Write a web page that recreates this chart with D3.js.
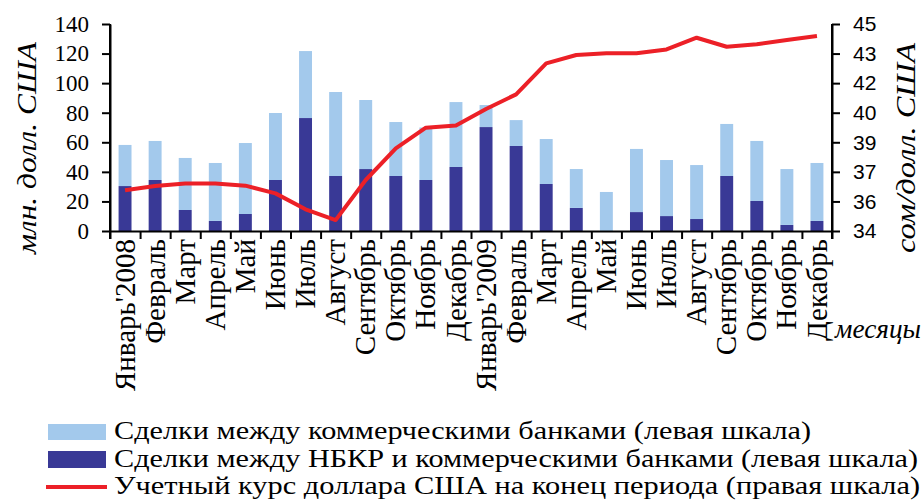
<!DOCTYPE html>
<html>
<head>
<meta charset="utf-8">
<script src="https://cdn.jsdelivr.net/npm/d3@7"></script>
<style>
  body { margin: 0; background: #fff; }
  svg { display: block; }
  .axis path, .axis line { stroke: #000; stroke-width: 2; }
</style>
</head>
<body>
<div id="chart"></div>
<script>
// Months on the x axis
const months = ["Январь'2008", 'Февраль', 'Март', 'Апрель', 'Май', 'Июнь', 'Июль', 'Август',
  'Сентябрь', 'Октябрь', 'Ноябрь', 'Декабрь', "Январь'2009", 'Февраль', 'Март', 'Апрель',
  'Май', 'Июнь', 'Июль', 'Август', 'Сентябрь', 'Октябрь', 'Ноябрь', 'Декабрь'];

// Deals NBKR <-> commercial banks (dark, bottom), mln USD
const nbkrDeals = [30.4, 34.5, 14.2, 6.8, 11.5, 34.5, 76.4, 37.2, 41.9, 37.2, 34.5, 43.3,
  70.3, 57.5, 31.8, 15.6, 0, 12.8, 10.1, 8.1, 37.2, 20.3, 4.1, 6.8];

// Deals between commercial banks (light, stacked on top), mln USD
const interbankDeals = [27.8, 26.4, 35.2, 39.2, 48.0, 45.3, 45.3, 56.8, 46.7, 36.5, 35.5, 43.9,
  14.9, 17.5, 30.4, 26.3, 26.4, 42.7, 37.9, 36.5, 35.2, 40.6, 37.8, 39.2];

// USD official rate at end of period, som/USD
const usdRate = [36.16, 36.39, 36.53, 36.53, 36.41, 36.0, 35.15, 34.58, 36.71, 38.39, 39.49, 39.6,
  40.48, 41.26, 42.91, 43.35, 43.44, 43.44, 43.65, 44.27, 43.79, 43.92, 44.15, 44.36];

const leftTicks = [0, 20, 40, 60, 80, 100, 120, 140];
const rightMin = 34, rightMax = 45;

const legendItems = [
  'Сделки между коммерческими банками (левая шкала)',
  'Сделки между НБКР и коммерческими банками (левая шкала)',
  'Учетный курс доллара США на конец периода (правая шкала)'
];

const serif = '"Liberation Serif", "Times New Roman", serif';
const sans = '"Liberation Sans", Arial, sans-serif';
const lightBlue = '#a3c9ec';
const darkBlue = '#393996';
const red = '#ec2027';

const svgWidth = 923, svgHeight = 501;
const plot = { left: 110, right: 832, top: 24, bottom: 231 };

let svg = d3.select('#chart').append('svg')
  .attr('width', svgWidth)
  .attr('height', svgHeight);

// Scales
let idx = d3.range(months.length);
let xBand = d3.scaleBand()
  .domain(idx)
  .range([plot.left, plot.right])
  .paddingInner(0.57)
  .paddingOuter(0.285);
let xCat = d3.scaleBand().domain(idx).range([plot.left, plot.right]);
let xEdge = d3.scaleLinear().domain([0, months.length]).range([plot.left, plot.right]);
let yLeft = d3.scaleLinear().domain([0, 140]).range([plot.bottom, plot.top]);
let yRight = d3.scaleLinear().domain([rightMin, rightMax]).range([plot.bottom, plot.top]);

// Stacked bars
let stackData = idx.map(i => ({ i: i, nbkr: nbkrDeals[i], inter: interbankDeals[i] }));
let series = d3.stack().keys(['nbkr', 'inter'])(stackData);
let colors = { nbkr: darkBlue, inter: lightBlue };

svg.append('g').selectAll('g')
  .data(series)
  .enter()
  .append('g')
  .attr('fill', s => colors[s.key])
  .selectAll('rect')
  .data(s => s)
  .enter()
  .append('rect')
  .attr('x', d => xBand(d.data.i))
  .attr('width', xBand.bandwidth())
  .attr('y', d => yLeft(d[1]))
  .attr('height', d => yLeft(d[0]) - yLeft(d[1]));

// Rate line
let line = d3.line()
  .x((d, i) => xBand(i) + xBand.bandwidth() / 2)
  .y(d => yRight(d));

svg.append('path')
  .datum(usdRate)
  .attr('d', line)
  .attr('fill', 'none')
  .attr('stroke', red)
  .attr('stroke-width', 4)
  .attr('stroke-linejoin', 'round');

// X axis: line + boundary ticks
let xAxis = svg.append('g')
  .attr('class', 'axis')
  .attr('transform', `translate(0, ${plot.bottom})`)
  .call(d3.axisBottom(xEdge).tickValues(d3.range(months.length + 1)).tickFormat('').tickSize(8).tickSizeOuter(0));

// X labels (rotated)
let xLabels = svg.append('g')
  .attr('transform', `translate(0, ${plot.bottom})`)
  .call(d3.axisBottom(xCat).tickSize(0).tickFormat(i => months[i]));
xLabels.select('.domain').remove();
xLabels.selectAll('text')
  .attr('font-family', serif)
  .attr('font-size', '29px')
  .attr('fill', '#000')
  .attr('text-anchor', 'end')
  .attr('transform', 'rotate(-90)')
  .attr('x', -8)
  .attr('y', 0)
  .attr('dy', '0.33em');

// Left axis
let leftAxis = svg.append('g')
  .attr('class', 'axis')
  .attr('transform', `translate(${plot.left}, 0)`)
  .call(d3.axisLeft(yLeft).tickValues(leftTicks).tickSize(8).tickSizeOuter(0).tickPadding(13));
leftAxis.selectAll('text')
  .attr('font-family', serif)
  .attr('font-size', '23px')
  .attr('fill', '#000');

// Right axis
let rightTicks = d3.range(8).map(i => rightMin + i * (rightMax - rightMin) / 7);
let rightAxis = svg.append('g')
  .attr('class', 'axis')
  .attr('transform', `translate(${plot.right}, 0)`)
  .call(d3.axisRight(yRight).tickValues(rightTicks).tickFormat(d => Math.round(d)).tickSize(8).tickSizeOuter(0).tickPadding(13));
rightAxis.selectAll('text')
  .attr('font-family', sans)
  .attr('font-size', '21px')
  .attr('fill', '#000');

// extend axis lines down to the x ticks
svg.append('line').attr('x1', plot.left).attr('x2', plot.left)
  .attr('y1', plot.top).attr('y2', plot.bottom + 8).attr('stroke', '#000').attr('stroke-width', 2);
svg.append('line').attr('x1', plot.right).attr('x2', plot.right)
  .attr('y1', plot.top).attr('y2', plot.bottom + 8).attr('stroke', '#000').attr('stroke-width', 2);

// Axis titles
svg.append('text')
  .attr('transform', 'translate(27, 148) rotate(-90)')
  .attr('text-anchor', 'middle')
  .attr('dy', '0.33em')
  .attr('font-family', serif)
  .attr('font-style', 'italic')
  .attr('font-size', '28px')
  .attr('textLength', 212)
  .attr('lengthAdjust', 'spacingAndGlyphs')
  .text('млн. долл. США');

svg.append('text')
  .attr('transform', 'translate(906, 148) rotate(-90)')
  .attr('text-anchor', 'middle')
  .attr('dy', '0.33em')
  .attr('font-family', serif)
  .attr('font-style', 'italic')
  .attr('font-size', '28px')
  .attr('textLength', 210)
  .attr('lengthAdjust', 'spacingAndGlyphs')
  .text('сом/долл. США');

svg.append('text')
  .attr('x', 835)
  .attr('y', 338)
  .attr('font-family', serif)
  .attr('font-style', 'italic')
  .attr('font-size', '28px')
  .attr('textLength', 86)
  .attr('lengthAdjust', 'spacingAndGlyphs')
  .text('месяцы');

// Legend
let legend = svg.append('g').attr('transform', 'translate(0, 0)');
let legendRows = [432, 459.5, 487];
let legendLengths = [697, 804, 806];

legend.append('rect').attr('x', 48).attr('y', 424).attr('width', 58).attr('height', 16).attr('fill', lightBlue);
legend.append('rect').attr('x', 48).attr('y', 451).attr('width', 58).attr('height', 17).attr('fill', darkBlue);
legend.append('line').attr('x1', 46).attr('x2', 107).attr('y1', 487).attr('y2', 487)
  .attr('stroke', red).attr('stroke-width', 4);

legend.selectAll('.legendText')
  .data(legendItems)
  .enter()
  .append('text')
  .attr('class', 'legendText')
  .attr('x', 114)
  .attr('y', (d, i) => legendRows[i] + 7)
  .attr('font-family', serif)
  .attr('font-size', '26px')
  .attr('textLength', (d, i) => legendLengths[i])
  .attr('lengthAdjust', 'spacingAndGlyphs')
  .text(d => d);
</script>
</body>
</html>
